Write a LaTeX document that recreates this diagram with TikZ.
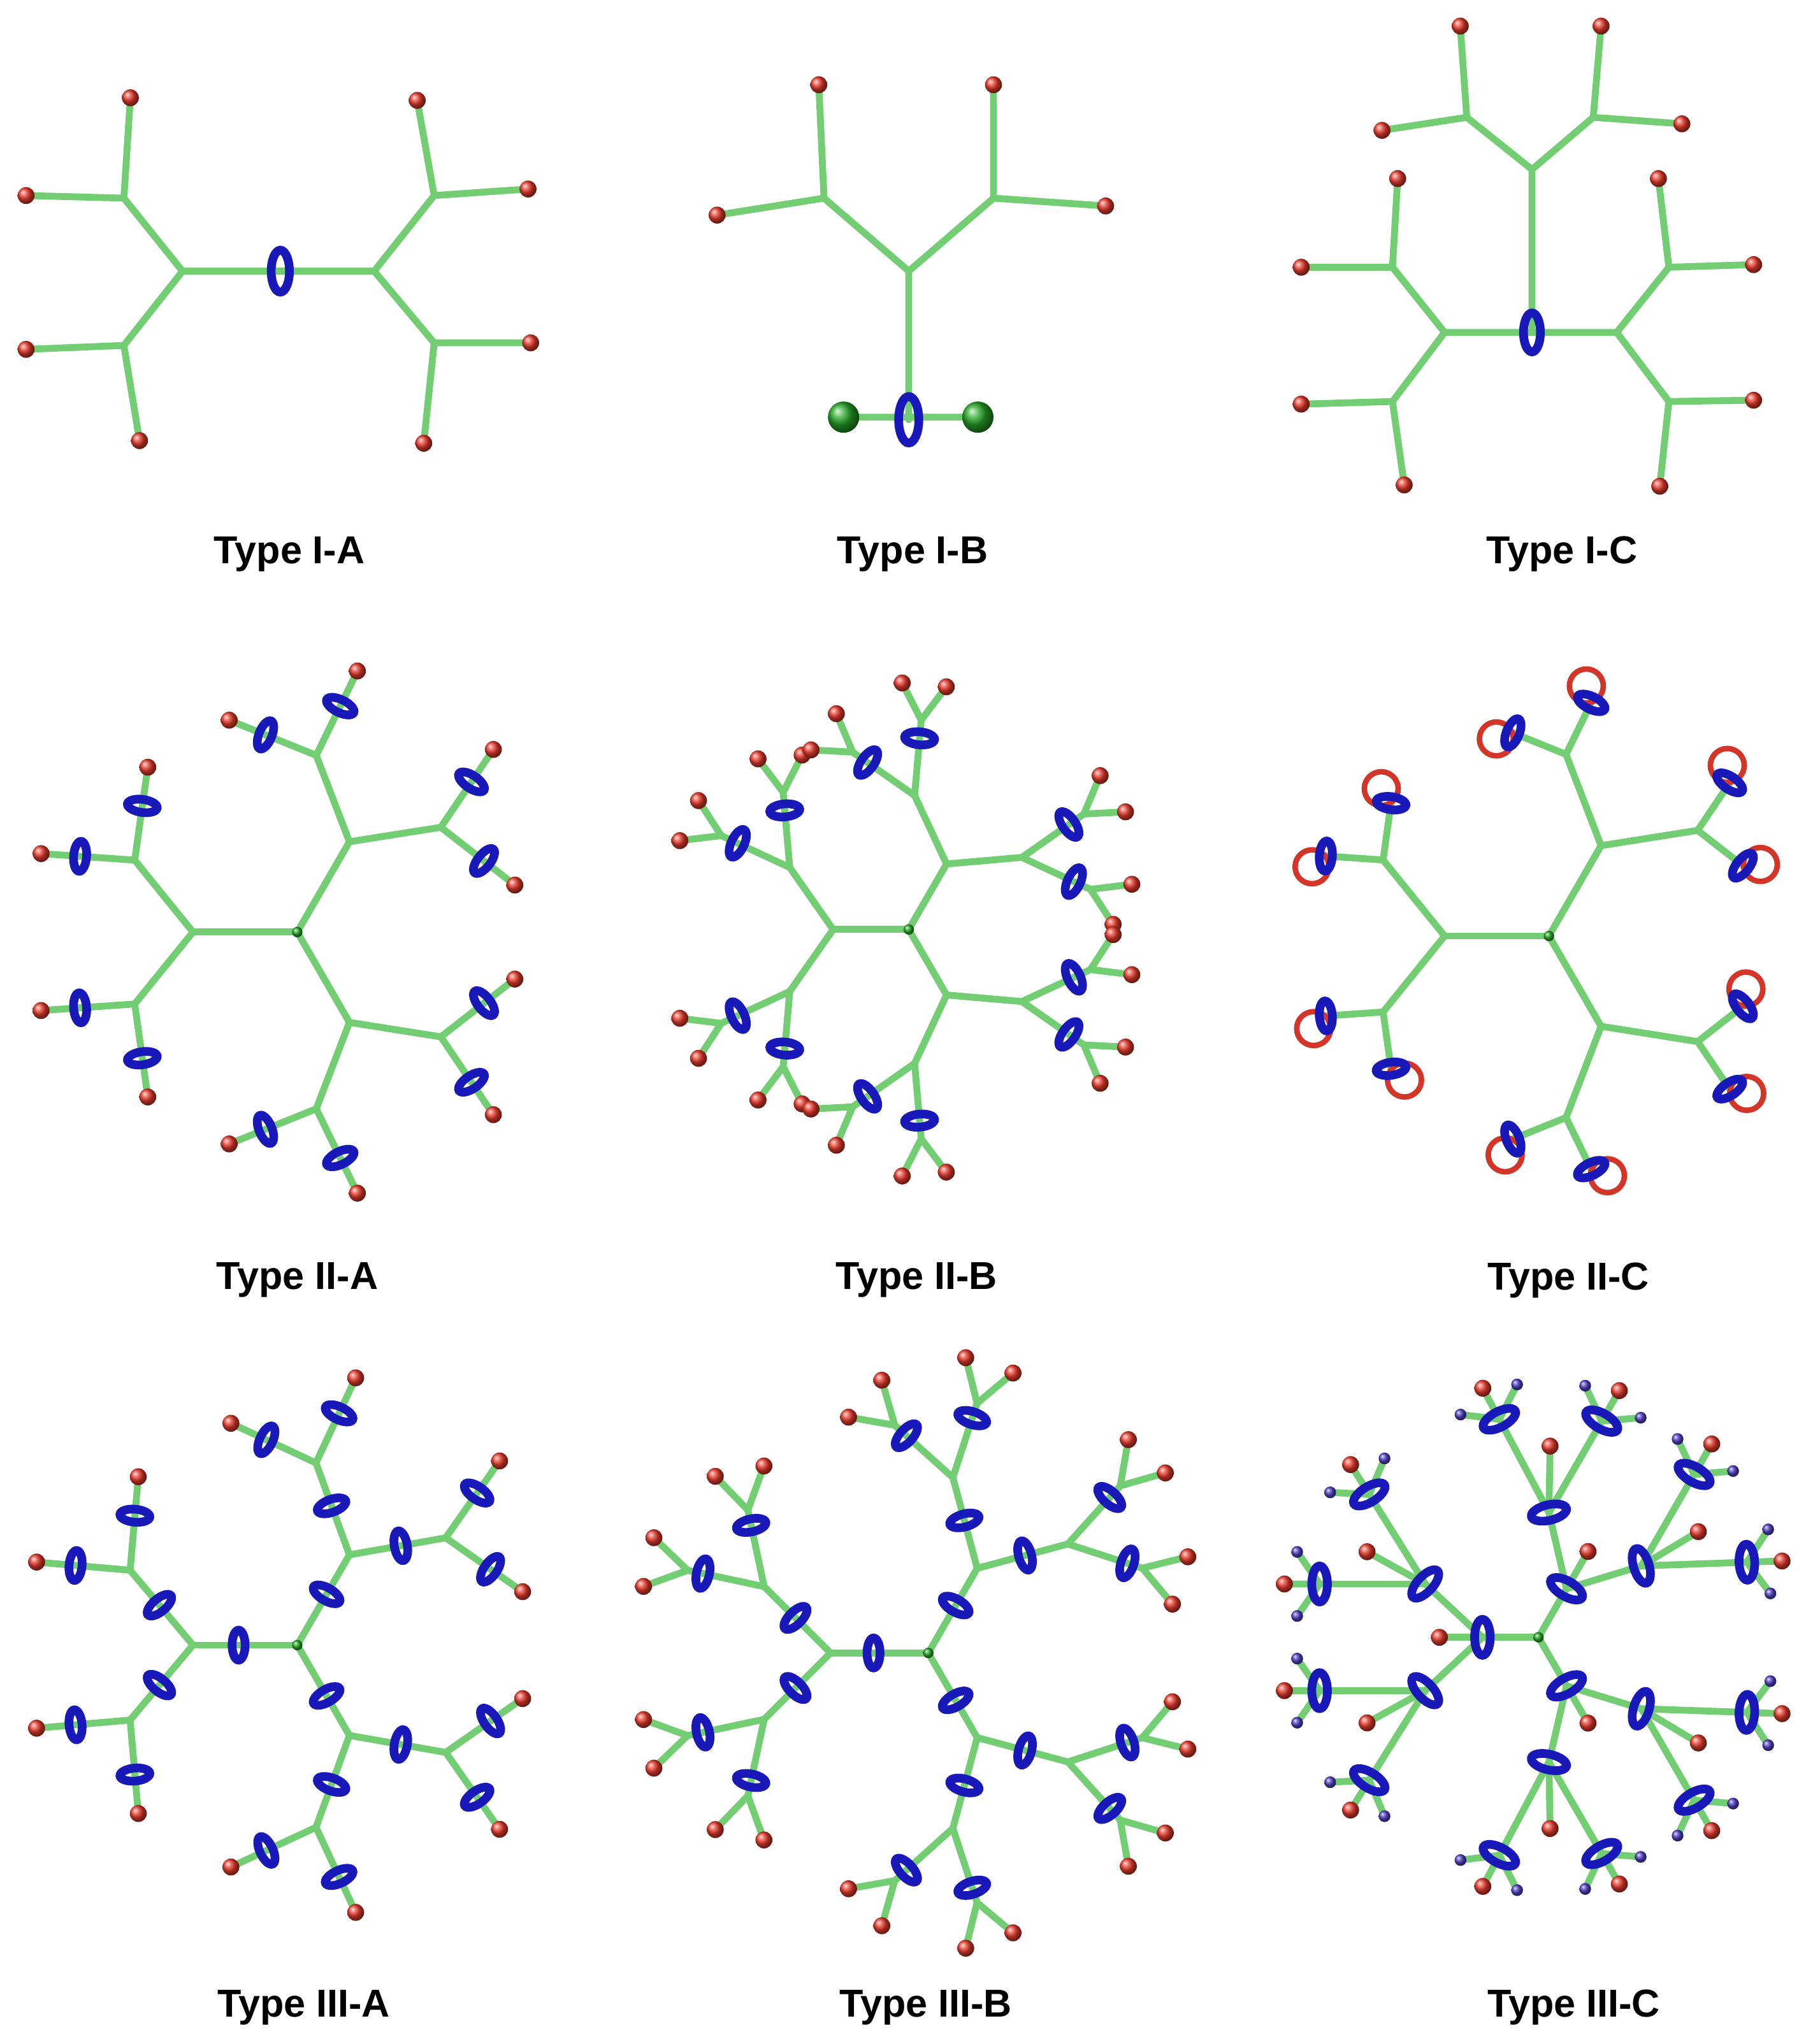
\documentclass[tikz,border=0pt]{standalone}
\usepackage{fontspec}
\setmainfont{Liberation Sans}
\usetikzlibrary{calc}
\definecolor{bondg}{RGB}{115,205,115}
\definecolor{ringb}{RGB}{25,25,185}
\definecolor{ballr}{RGB}{235,60,45}
\definecolor{purp}{RGB}{80,65,200}
\definecolor{coreg}{RGB}{40,170,40}
\tikzset{
  bond/.style={draw=bondg,line width=3pt,line cap=round},
  ringsty/.style={draw=ringb,line width=3.8pt},
  loopsty/.style={draw=ballr!90!black,line width=2.4pt},
  lab/.style={font=\fontsize{17}{20}\selectfont\bfseries}
}
\newcommand\ringat[3][1]{\draw[ringsty] (#2) circle[x radius={5*#1},y radius={11.5*#1},rotate=#3];}
\newcommand\rball[2][6.5]{\shade[ball color=ballr] (#2) circle[radius=#1];}
\newcommand\pball[1]{\shade[ball color=purp] (#1) circle[radius=4.5];}
\newcommand\gball[2][4]{\shade[ball color=coreg] (#2) circle[radius=#1];}
\begin{document}
\begin{tikzpicture}[x=0.02cm,y=0.02cm]
\useasboundingbox (0,0) rectangle (1385,-1568);
% ---------- Type I-A
\coordinate (a0) at (215,-208);
\coordinate (al) at (140,-208); \coordinate (ar) at (287,-208);
\coordinate (alu) at (95,-152); \coordinate (ald) at (95,-265);
\coordinate (aru) at (333,-150); \coordinate (ard) at (333,-263);
\coordinate (e1) at (100,-75); \coordinate (e2) at (20,-150);
\coordinate (e3) at (20,-268); \coordinate (e4) at (107,-338);
\coordinate (e5) at (320,-77); \coordinate (e6) at (405,-145);
\coordinate (e7) at (407,-263); \coordinate (e8) at (325,-340);
\draw[bond] (al)--(ar) (al)--(alu) (al)--(ald) (ar)--(aru) (ar)--(ard)
 (alu)--(e1) (alu)--(e2) (ald)--(e3) (ald)--(e4)
 (aru)--(e5) (aru)--(e6) (ard)--(e7) (ard)--(e8);
\ringat[1.4]{a0}{0}
\foreach \e in {e1,e2,e3,e4,e5,e6,e7,e8}{\rball{\e}}
% ---------- Type I-B
\coordinate (b0) at (697,-208); \coordinate (bl) at (632,-152); \coordinate (br) at (762,-152);
\coordinate (bd) at (697,-322); \coordinate (g1) at (647,-320); \coordinate (g2) at (750,-320);
\coordinate (f1) at (628,-65); \coordinate (f2) at (550,-165);
\coordinate (f3) at (762,-65); \coordinate (f4) at (848,-158);
\draw[bond] (b0)--(bl) (b0)--(br) (b0)--(bd) (bl)--(f1) (bl)--(f2) (br)--(f3) (br)--(f4) (g1)--(g2);
\gball[12]{g1} \gball[12]{g2}
\ringat[1.55]{bd}{0}
\foreach \e in {f1,f2,f3,f4}{\rball{\e}}
% ---------- Type I-C
\coordinate (c0) at (1175,-255); \coordinate (cl) at (1108,-255); \coordinate (cr) at (1240,-255);
\coordinate (ct) at (1175,-130); \coordinate (ctl) at (1125,-90); \coordinate (ctr) at (1222,-90);
\coordinate (clu) at (1068,-205); \coordinate (cld) at (1068,-308);
\coordinate (cru) at (1280,-205); \coordinate (crd) at (1280,-308);
\coordinate (h1) at (1120,-20); \coordinate (h2) at (1060,-100);
\coordinate (h3) at (1228,-20); \coordinate (h4) at (1290,-95);
\coordinate (h5) at (1072,-137); \coordinate (h6) at (998,-205);
\coordinate (h7) at (998,-310); \coordinate (h8) at (1077,-372);
\coordinate (h9) at (1272,-137); \coordinate (h10) at (1345,-203);
\coordinate (h11) at (1345,-307); \coordinate (h12) at (1273,-373);
\draw[bond] (cl)--(cr) (c0)--(ct) (ct)--(ctl) (ct)--(ctr) (ctl)--(h1) (ctl)--(h2) (ctr)--(h3) (ctr)--(h4)
 (cl)--(clu) (cl)--(cld) (clu)--(h5) (clu)--(h6) (cld)--(h7) (cld)--(h8)
 (cr)--(cru) (cr)--(crd) (cru)--(h9) (cru)--(h10) (crd)--(h11) (crd)--(h12);
\ringat[1.3]{c0}{0}
\foreach \e in {h1,h2,h3,h4,h5,h6,h7,h8,h9,h10,h11,h12}{\rball{\e}}
% ---------- Type II-A
\coordinate (d0) at (228,-715);
\foreach \a in {180,60,300}{
  \coordinate (p1) at ($(d0)+(\a:80)$);
  \draw[bond] (d0)--(p1);
  \foreach \s in {-51,51}{
    \pgfmathsetmacro\angB{\a+\s}
    \coordinate (p2) at ($(p1)+(\angB:71)$);
    \draw[bond] (p1)--(p2);
    \foreach \t in {-47,47}{
      \pgfmathsetmacro\angC{\angB+\t}
      \coordinate (p3) at ($(p2)+(\angC:72)$);
      \draw[bond] (p2)--(p3);
      \ringat{$(p2)+(\angC:42)$}{\angC}
      \rball{p3}
}}}
\gball{d0}
% ---------- Type II-B
\coordinate (k0) at (697,-713);
\foreach \a in {180,60,300}{
  \coordinate (p1) at ($(k0)+(\a:58)$);
  \draw[bond] (k0)--(p1);
  \foreach \s in {-55,55}{
    \pgfmathsetmacro\angB{\a+\s}
    \coordinate (p2) at ($(p1)+(\angB:58)$);
    \draw[bond] (p1)--(p2);
    \foreach \t in {-30,30}{
      \pgfmathsetmacro\angC{\angB+\t}
      \coordinate (p3) at ($(p2)+(\angC:58)$);
      \draw[bond] (p2)--(p3);
      \foreach \u in {-32,32}{
        \pgfmathsetmacro\angD{\angC+\u}
        \coordinate (p4) at ($(p3)+(\angD:32)$);
        \draw[bond] (p3)--(p4);
        \rball{p4}
      }
      \ringat{$(p2)+(\angC:44)$}{\angC}
}}}
\gball{k0}
% ---------- Type II-C
\coordinate (m0) at (1188,-718);
\foreach \a in {180,60,300}{
  \coordinate (p1) at ($(m0)+(\a:80)$);
  \draw[bond] (m0)--(p1);
  \foreach \s in {-51,51}{
    \pgfmathsetmacro\angB{\a+\s}
    \coordinate (p2) at ($(p1)+(\angB:75)$);
    \draw[bond] (p1)--(p2);
    \foreach \t in {-47,47}{
      \pgfmathsetmacro\angC{\angB+\t}
      \draw[bond] (p2)--($(p2)+(\angC:50)$);
      \draw[loopsty] ($(p2)+(\angC:54)+(\angC+90:9)$) circle[radius=13];
      \ringat{$(p2)+(\angC:44)$}{\angC}
}}}
\gball{m0}
% ---------- Type III-A
\coordinate (n0) at (228,-1262);
\foreach \a in {180,60,300}{
  \coordinate (p1) at ($(n0)+(\a:80)$);
  \draw[bond] (n0)--(p1);
  \foreach \s in {-50,50}{
    \pgfmathsetmacro\angB{\a+\s}
    \coordinate (p2) at ($(p1)+(\angB:75)$);
    \draw[bond] (p1)--(p2);
    \foreach \t in {-45,45}{
      \pgfmathsetmacro\angC{\angB+\t}
      \coordinate (p3) at ($(p2)+(\angC:72)$);
      \draw[bond] (p2)--(p3);
      \ringat{$(p2)+(\angC:42)$}{\angC}
      \rball{p3}
    }
    \ringat{$(p1)+(\angB:40)$}{\angB}
  }
  \ringat{$(n0)+(\a:45)$}{\a}
}
\gball{n0}
% ---------- Type III-B
\coordinate (q0) at (712,-1268);
\foreach \a in {180,60,300}{
  \coordinate (p1) at ($(q0)+(\a:75)$);
  \draw[bond] (q0)--(p1);
  \foreach \s in {-45,45}{
    \pgfmathsetmacro\angB{\a+\s}
    \coordinate (p2) at ($(p1)+(\angB:72)$);
    \draw[bond] (p1)--(p2);
    \foreach \t in {-33,33}{
      \pgfmathsetmacro\angC{\angB+\t}
      \coordinate (p3) at ($(p2)+(\angC:60)$);
      \draw[bond] (p2)--(p3);
      \foreach \u in {-32,32}{
        \pgfmathsetmacro\angD{\angC+\u}
        \coordinate (p4) at ($(p3)+(\angD:36)$);
        \draw[bond] (p3)--(p4);
        \rball{p4}
      }
      \ringat{$(p2)+(\angC:48)$}{\angC}
    }
    \ringat{$(p1)+(\angB:38)$}{\angB}
  }
  \ringat{$(q0)+(\a:42)$}{\a}
}
\gball{q0}
% ---------- Type III-C
\coordinate (r0) at (1180,-1256);
\foreach \a in {180,60,300}{
  \coordinate (p1) at ($(r0)+(\a:43)$);
  \draw[bond] (r0)--(p1);
  \coordinate (rb) at ($(p1)+(\a:33)$);
  \draw[bond] (p1)--(rb);
  \rball{rb}
  \foreach \sg in {-1,1}{
    \pgfmathsetmacro\angB{\a+43*\sg}
    \coordinate (p2) at ($(p1)+(\angB:60)$);
    \draw[bond] (p1)--(p2);
    \pgfmathsetmacro\angR{\angB-14*\sg}
    \coordinate (rb2) at ($(p2)+(\angR:51)$);
    \draw[bond] (p2)--(rb2);
    \rball{rb2}
    \pgfmathsetmacro\angT{\angB+15*\sg}
    \pgfmathsetmacro\angU{\angB-43*\sg}
    \foreach \angC in {\angT,\angU}{
      \coordinate (p3) at ($(p2)+(\angC:81)$);
      \draw[bond] (p2)--(p3);
      \coordinate (t1) at ($(p3)+(\angC:27)$);
      \coordinate (t2) at ($(p3)+(\angC+55:30)$);
      \coordinate (t3) at ($(p3)+(\angC-55:30)$);
      \draw[bond] (p3)--(t1) (p3)--(t2) (p3)--(t3);
      \ringat[1.2]{p3}{\angC}
      \rball{t1} \pball{t2} \pball{t3}
    }
    \ringat[1.2]{p2}{\angB}
  }
  \ringat[1.2]{p1}{\a}
}
\gball{r0}
% ---------- labels
\node[lab] (l1) at (222,-425) {Type I-A};
\node[lab] (l2) at (700,-425) {Type I-B};
\node[lab] (l3) at (1198,-425) {Type I-C};
\node[lab] (l4) at (228,-982) {Type II-A};
\node[lab] (l5) at (703,-982) {Type II-B};
\node[lab] (l6) at (1203,-982) {Type II-C};
\node[lab] (l7) at (233,-1540) {Type III-A};
\node[lab] (l8) at (710,-1540) {Type III-B};
\node[lab] (l9) at (1207,-1540) {Type III-C};
\end{tikzpicture}
\end{document}
